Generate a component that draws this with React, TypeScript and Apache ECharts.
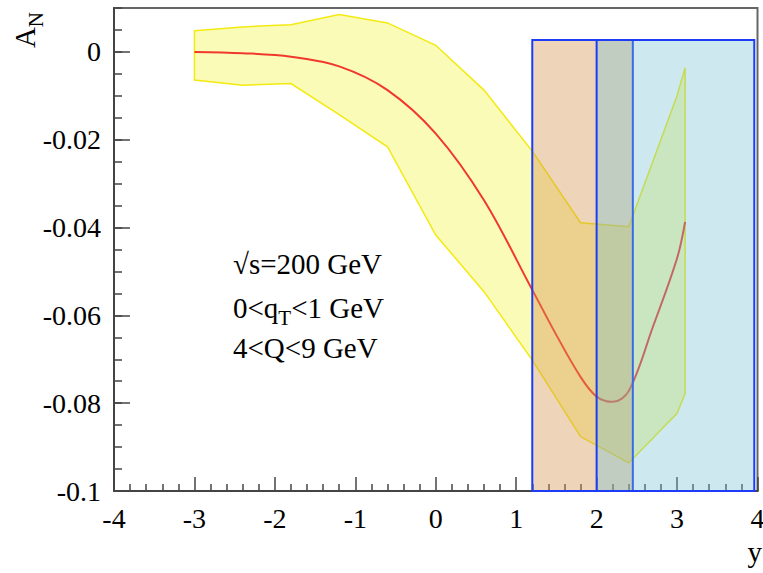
import React, { useEffect, useRef } from "react";
import * as echarts from "echarts";

// ---- data ----
const bandX = [-3, -2.4, -1.8, -1.2, -0.6, 0, 0.6, 1.2, 1.8, 2.4, 3.0, 3.1];
const bandUpper = [0.0048, 0.0057, 0.0062, 0.0085, 0.0066, 0.0015, -0.0087, -0.0226, -0.0389, -0.0398, -0.0100, -0.0036];
const bandLower = [-0.0064, -0.0076, -0.0072, -0.0143, -0.0216, -0.0417, -0.0546, -0.0702, -0.0876, -0.0936, -0.0823, -0.0778];

const curveX = [-3, -2.4, -1.8, -1.2, -0.6, 0, 0.6, 1.2, 1.5, 1.8, 2.0, 2.2, 2.4, 2.7, 3.0, 3.1];
const curveY = [0, -0.0003, -0.0011, -0.0033, -0.0087, -0.0186, -0.0338, -0.0542, -0.0645, -0.074, -0.0785, -0.0797, -0.0772, -0.0626, -0.047, -0.0387];

const boxLeft = [1.2, 2.0];
const boxRight = [2.45, 3.96];
const boxBottom = [-0.1, -0.1];
const boxTop = [0.0027, 0.0027];
const boxFill = ["rgba(212,147,77,0.4)", "rgba(112,192,209,0.35)"];

const infoLines = ["√s=200 GeV", "0<q", "T", "<1 GeV", "4<Q<9 GeV"];
const yAxisTitle = ["A", "N"];
const xAxisTitle = "y";

const FONT = "'Liberation Serif', 'Times New Roman', serif";

export default function App() {
  const ref = useRef<HTMLDivElement>(null);

  useEffect(() => {
    if (!ref.current) return;
    const chart = echarts.init(ref.current, null, { renderer: "svg" });

    const option: any = {
      animation: false,
      grid: {
        left: 114,
        right: 5.5,
        top: 8,
        bottom: 82,
        show: true,
        borderColor: "#666",
        borderWidth: 2,
        backgroundColor: "transparent",
        containLabel: false,
        outerBoundsMode: "none",
      },
      xAxis: {
        type: "value",
        min: -4,
        max: 4,
        interval: 1,
        axisLine: { show: true, onZero: false, lineStyle: { color: "#444", width: 2 } },
        axisTick: { show: true, inside: true, length: 14, lineStyle: { color: "#444", width: 1.5 } },
        minorTick: { show: true, splitNumber: 5, length: 7, lineStyle: { color: "#444", width: 1.5 } },
        splitLine: { show: false },
        axisLabel: { fontFamily: FONT, fontSize: 28, color: "#000", margin: 13 },
      },
      yAxis: [
        {
          type: "value",
          min: -0.1,
          max: 0.01,
          interval: 0.02,
          axisLine: { show: true, onZero: false, lineStyle: { color: "#444", width: 2 } },
          axisTick: { show: true, inside: true, length: 16, lineStyle: { color: "#444", width: 1.5 } },
          splitLine: { show: false },
          axisLabel: {
            fontFamily: FONT,
            fontSize: 28,
            color: "#000",
            margin: 13,
            showMaxLabel: false,
            formatter: (v: number) => (v > 0.001 ? "" : String(Math.round(v * 1000) / 1000)),
          },
        },
        {
          type: "value",
          min: -0.1,
          max: 0.01,
          interval: 0.005,
          position: "left",
          offset: 0,
          axisLine: { show: false, onZero: false },
          axisTick: { show: true, inside: true, length: 8, lineStyle: { color: "#444", width: 1.5 } },
          axisLabel: { show: false },
          splitLine: { show: false },
        },
      ],
      series: [
        {
          type: "custom",
          z: 2,
          silent: true,
          data: bandX.map((x, i) => [x, bandLower[i], bandUpper[i]]),
          encode: { x: 0, y: [1, 2] },
          renderItem: (params: any, api: any) => {
            if (params.dataIndex !== 0) return null;
            const pts: number[][] = [];
            for (let i = 0; i < bandX.length; i++) pts.push(api.coord([bandX[i], bandUpper[i]]));
            for (let i = bandX.length - 1; i >= 0; i--) pts.push(api.coord([bandX[i], bandLower[i]]));
            return {
              type: "polygon",
              shape: { points: pts },
              style: { fill: "#fbfbb8", stroke: "#f2ea10", lineWidth: 1.5 },
            };
          },
        },
        {
          type: "line",
          z: 3,
          silent: true,
          smooth: 0.35,
          showSymbol: false,
          symbol: "none",
          data: curveX.map((x, i) => [x, curveY[i]]),
          lineStyle: { color: "#f0382c", width: 2 },
        },
        {
          type: "custom",
          z: 4,
          silent: true,
          data: boxLeft.map((x, i) => [x, boxRight[i], boxBottom[i], boxTop[i]]),
          encode: { x: [0, 1], y: [2, 3] },
          renderItem: (params: any, api: any) => {
            const p0 = api.coord([api.value(0), api.value(3)]);
            const p1 = api.coord([api.value(1), api.value(2)]);
            return {
              type: "rect",
              shape: { x: p0[0], y: p0[1], width: p1[0] - p0[0], height: p1[1] - p0[1] },
              style: { fill: boxFill[params.dataIndex], stroke: "#1d3cf8", lineWidth: 2 },
            };
          },
        },
      ],
      graphic: [
        {
          type: "text",
          x: 233,
          y: 263.5,
          style: { text: infoLines[0], font: `29px ${FONT}`, fontSize: 29, fontFamily: FONT, fill: "#000", align: "left", verticalAlign: "middle" },
          z: 10,
        },
        {
          type: "text",
          x: 233,
          y: 307.5,
          style: {
            text: `{m|${infoLines[1]}}{s|${infoLines[2]}}{m|${infoLines[3]}}`,
            rich: {
              m: { fontSize: 29, fontFamily: FONT, fill: "#000", color: "#000" },
              s: { fontSize: 21, fontFamily: FONT, fill: "#000", color: "#000", padding: [21, 0, 0, 0] },
            },
            align: "left",
            verticalAlign: "middle",
          },
          z: 10,
        },
        {
          type: "text",
          x: 233,
          y: 348.2,
          style: { text: infoLines[4], font: `29px ${FONT}`, fontSize: 29, fontFamily: FONT, fill: "#000", align: "left", verticalAlign: "middle" },
          z: 10,
        },
        {
          type: "text",
          x: 25.2,
          y: 30,
          rotation: Math.PI / 2,
          style: {
            text: `{a|${yAxisTitle[0]}}{n|${yAxisTitle[1]}}`,
            rich: {
              a: { fontSize: 29, fontFamily: FONT, fill: "#000", color: "#000" },
              n: { fontSize: 21, fontFamily: FONT, fill: "#000", color: "#000", padding: [21, 0, 0, 0] },
            },
            align: "center",
            verticalAlign: "middle",
          },
          z: 10,
        },
        {
          type: "text",
          x: 762,
          y: 552,
          style: { text: xAxisTitle, font: `29px ${FONT}`, fontSize: 29, fontFamily: FONT, fill: "#000", align: "right", verticalAlign: "middle" },
          z: 10,
        },
      ],
    };

    chart.setOption(option);
    return () => chart.dispose();
  }, []);

  return (
    <div
      ref={ref}
      style={{ position: "fixed", left: 0, top: 0, width: 763, height: 573, background: "#fff" }}
    />
  );
}
